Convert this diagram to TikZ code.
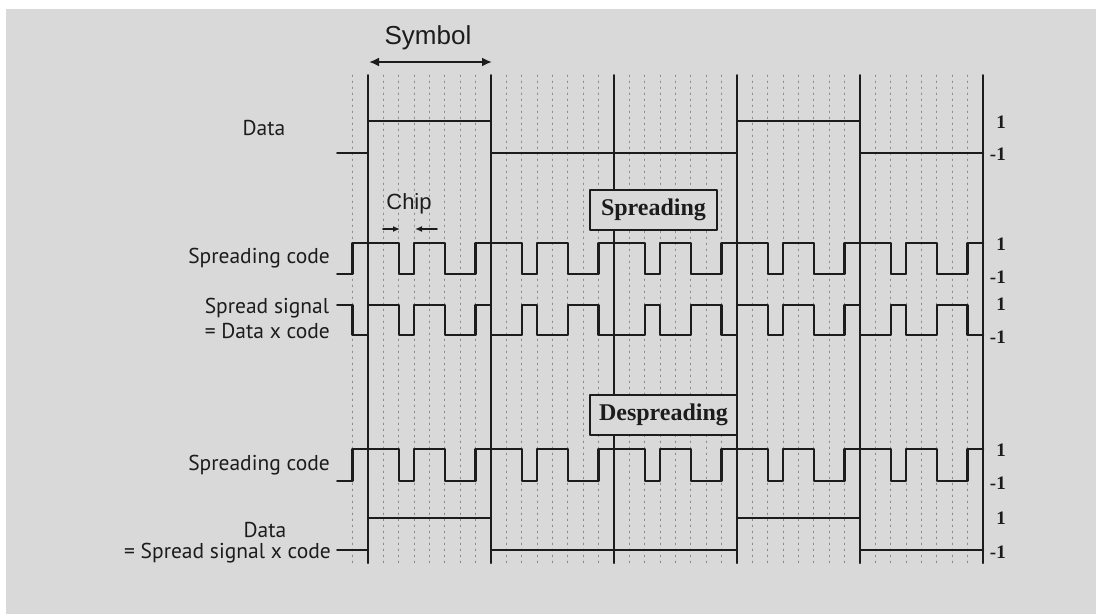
\documentclass[tikz,border=0pt]{standalone}
\usepackage{fontspec}
\setmainfont{PT Sans}
\newfontfamily\headfont{Liberation Sans}
\newfontfamily\stagefont{Liberation Serif}
\usetikzlibrary{arrows.meta,positioning}
\definecolor{dsPaper}{HTML}{D9D9D9}
\definecolor{dsInk}{HTML}{1C1C1C}
\definecolor{dsDots}{HTML}{8C8C8C}
\tikzset{
  ds diagram/.style={x=1pt, y=-1pt, text=dsInk,
    line cap=round, line join=round},
  ds wave/.style={draw=dsInk, line width=2.5pt},
  ds bound/.style={draw=dsInk, line width=2pt},
  ds grid/.style={draw=dsDots, line width=1pt, dash pattern=on 1.5pt off 4.5pt},
  ds label/.style={font=\fontsize{21.5}{25}\selectfont, inner sep=0pt},
  ds level/.style={font=\stagefont\bfseries\fontsize{19}{19}\selectfont,
    inner sep=0pt, anchor=east},
  ds stage/.style={draw=dsInk, fill=dsPaper, line width=1.6pt,
    font=\stagefont\bfseries\fontsize{24}{26}\selectfont,
    inner sep=3pt, minimum height=40pt},
  ds head/.style={font=\headfont\fontsize{26}{28}\selectfont, inner sep=0pt},
  ds span/.style={{Latex[length=10pt,width=9pt]}-{Latex[length=10pt,width=9pt]},
    draw=dsInk, line width=2pt},
  ds tick/.style={-{Latex[length=7pt,width=6pt]}, draw=dsInk, line width=1.6pt}
}
% chips from x=337.25, width 15.375 (8 per symbol)
\def\dscode{{-1,1, 1,1,-1,1,1,-1,-1,1, 1,1,-1,1,1,-1,-1,1, 1,1,-1,1,1,-1,-1,1,
  1,1,-1,1,1,-1,-1,1, 1,1,-1,1,1,-1,-1,1}}
\def\dsdata{{-1,-1, 1,1,1,1,1,1,1,1, -1,-1,-1,-1,-1,-1,-1,-1, -1,-1,-1,-1,-1,-1,-1,-1,
  1,1,1,1,1,1,1,1, -1,-1,-1,-1,-1,-1,-1,-1}}
% #1 y of level 1, #2 y of level -1, #3 level of chip \i
\newcommand\dswave[3]{%
  \begingroup
  \def\i{0}%
  \pgfmathsetmacro\dsy{(#1+#2)/2-(#3)*(#2-#1)/2}%
  \draw[ds wave] (337.25,\dsy)
    \foreach \i in {0,...,41}{
      -- ({337.25+15.375*\i},{(#1+#2)/2-(#3)*(#2-#1)/2})
      -- ({337.25+15.375*(\i+1)},{(#1+#2)/2-(#3)*(#2-#1)/2})};
  \endgroup}

\begin{document}
\begin{tikzpicture}[ds diagram]
\useasboundingbox (0,0) rectangle (1096,614);
\fill[dsPaper] (6,9) rectangle (1096,614);
% chip grid and symbol boundaries
\foreach \k in {1,...,41}
  \draw[ds grid] ({337.25+15.375*\k},75) -- ({337.25+15.375*\k},563);
\foreach \k in {0,...,5}
  \draw[ds bound] ({368+123*\k},75) -- ({368+123*\k},563);
% signals
\dswave{121}{153}{\dsdata[\i]}
\dswave{243}{274}{\dscode[\i]}
\dswave{305}{335}{\dscode[\i]*\dsdata[\i]}
\dswave{449}{481}{\dscode[\i]}
\dswave{518}{550}{\dsdata[\i]}
% levels
\foreach \row/\yh/\yl in {data/122/154,code/244/277,spread/304/337,decode/450/483,result/518/552}{
  \node[ds level] (\row-hi) at (1006,\yh) {1};
  \node[ds level] (\row-lo) at (1006,\yl) {-1};
}
% row names
\node[ds label] (data) at (264,128) {Data};
\node[ds label,anchor=east] (code) at (330,258) {Spreading code};
\node[ds label,anchor=east,align=left] (spread) at (330,318) {Spread signal\\= Data x code};
\node[ds label,anchor=east] (decode) at (330,465) {Spreading code};
\node[ds label] (result) at (265,530) {Data};
\node[ds label,anchor=east] (result2) at (331,553) {= Spread signal x code};
% stages
\node[ds stage,minimum width=127pt] (spreading) at (653.5,210) {Spreading};
\node[ds stage,minimum width=147pt] (despreading) at (663.5,415) {Despreading};
% symbol and chip
\node[ds head] (symbol) at (428,38) {Symbol};
\coordinate (sym-l) at (369,62);
\coordinate (sym-r) at (492,62);
\draw[ds span] (sym-l) -- (sym-r);
\node[ds head,font=\headfont\fontsize{22}{24}\selectfont] (chip) at (409,204) {Chip};
\coordinate (chip-la) at (383,229);
\coordinate (chip-lb) at (400,229);
\coordinate (chip-ra) at (437,229);
\coordinate (chip-rb) at (415,229);
\draw[ds tick] (chip-la) -- (chip-lb);
\draw[ds tick] (chip-ra) -- (chip-rb);
\end{tikzpicture}
\end{document}
